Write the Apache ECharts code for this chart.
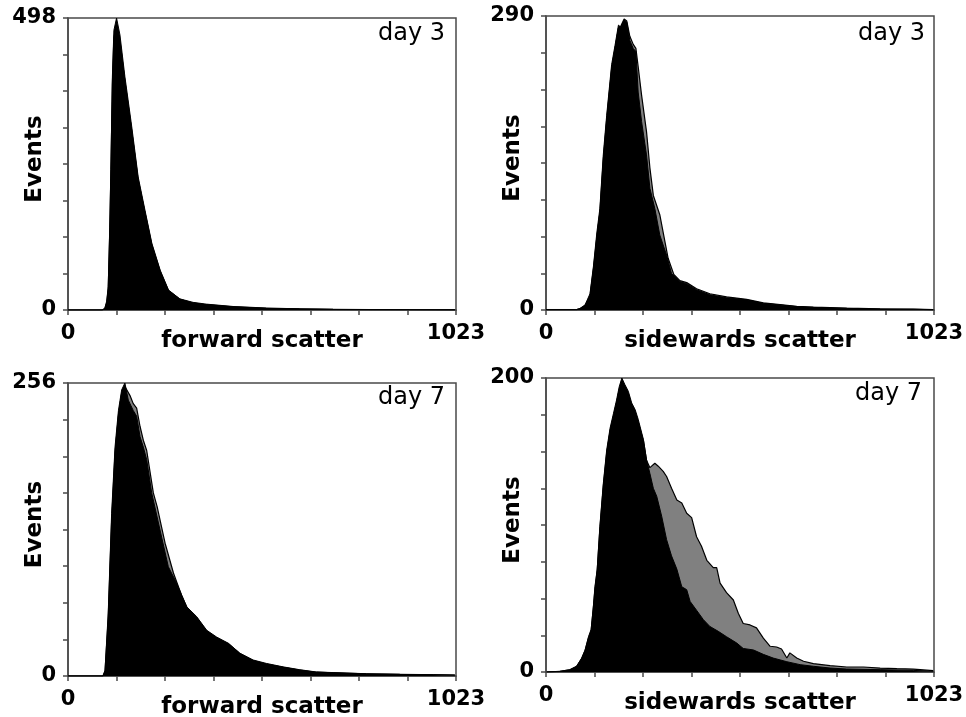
<!DOCTYPE html>
<html>
<head>
<meta charset="utf-8">
<script src="https://cdn.jsdelivr.net/npm/echarts@6/dist/echarts.min.js"></script>
<style>
html,body{margin:0;padding:0;background:#fff;}
#chart{width:966px;height:717px;}
</style>
</head>
<body>
<div id="chart"></div>
<script>
// ---------- data (channel, events) ----------
const xMax = 1023;
const xTickLabels = ['0', '1023'];
const yMaxes = [498, 290, 256, 200];
const panelTitles = ['day 3', 'day 3', 'day 7', 'day 7'];
const axisNames = ['forward scatter', 'sidewards scatter', 'forward scatter', 'sidewards scatter'];
const yAxisName = 'Events';

// forward scatter, day 3
const fsc3BlackX = [0, 90, 97, 102, 106, 110, 113, 117, 121, 128, 137, 150, 168, 185, 203, 221, 243, 265, 295, 330, 365, 435, 523, 611, 699, 800, 900, 1020];
const fsc3Black  = [0, 0, 3, 15, 40, 140, 240, 398, 477, 498, 469, 398, 313, 227, 170, 114, 68, 34, 19, 13, 10, 6, 3.4, 2, 1.2, 0.8, 0.5, 0.3];
const fsc3GrayX  = [0, 90, 97, 102, 106, 110, 113, 117, 121, 128, 137, 150, 168, 185, 203, 221, 243, 265, 295, 330, 365, 435, 523, 611, 699, 800, 900, 1020];
const fsc3Gray   = [0, 0, 2, 12, 35, 130, 230, 385, 465, 485, 458, 390, 305, 222, 166, 111, 66, 33, 18, 12, 9, 5.5, 3, 1.8, 1, 0.7, 0.4, 0.2];

// sidewards scatter, day 3
const ssc3BlackX = [0, 81, 90, 103, 116, 125, 134, 142, 151, 160, 173, 182, 191, 197, 206, 213, 221, 230, 237, 243, 252, 265, 274, 287, 300, 318, 331, 353, 371, 397, 432, 476, 529, 573, 617, 661, 705, 793, 881, 969, 1021];
const ssc3Black  = [0.5, 0.5, 1.6, 5, 16, 43, 76, 100, 153, 192, 242, 261, 281, 279, 286, 284, 266, 258, 255, 215, 186, 153, 120, 100, 74, 54, 36, 28, 26, 20, 15, 12, 10, 6.6, 5, 3.3, 2.6, 1.6, 1, 0.7, 0.3];
const ssc3GrayX  = [0, 81, 90, 103, 116, 125, 134, 142, 151, 160, 173, 182, 191, 197, 206, 213, 221, 230, 237, 243, 252, 265, 274, 283, 300, 322, 337, 353, 371, 397, 432, 476, 529, 573, 617, 661, 705, 793, 881, 969, 1021];
const ssc3Gray   = [0.4, 0.4, 1.4, 4.5, 14, 40, 72, 96, 148, 188, 238, 258, 278, 280, 287, 285, 270, 262, 258, 240, 212, 176, 140, 113, 94, 51, 35, 29, 27, 21, 16, 13, 10.5, 7, 5.4, 3.6, 2.8, 1.8, 1.1, 0.8, 0.4];

// forward scatter, day 7
const fsc7BlackX = [0, 92, 97.6, 106, 115, 124, 133, 141.5, 150, 159, 172, 181, 190, 198.6, 207.5, 220.7, 242.6, 264.5, 286.6, 313, 339, 365.7, 392, 423, 453, 488, 523, 567, 611, 655, 699, 787, 875, 963, 1020];
const fsc7Black  = [0, 0, 5, 55, 142, 200, 232, 250, 256, 241, 232, 227, 209, 200, 189, 160, 127.6, 95.5, 81, 60.5, 52, 40, 34, 28.6, 20, 14, 11, 8, 5.5, 3.5, 3, 2, 1.5, 1.2, 0.9];
const fsc7GrayX  = [0, 92, 97.6, 106, 115, 124, 133, 141.5, 150, 163.5, 172, 181, 190, 198.6, 207.5, 225, 235, 256, 278, 300, 316, 339, 365.7, 392, 423, 453, 488, 523, 567, 611, 655, 699, 787, 875, 963, 1020];
const fsc7Gray   = [0, 0, 4, 50, 135, 195, 228, 247, 253, 245, 238, 234, 218, 206, 197, 160, 148, 116, 90, 70, 58, 51, 39, 33, 28, 19.5, 13.5, 10.5, 7.5, 5.2, 3.3, 2.8, 1.9, 1.4, 1.1, 0.8];

// sidewards scatter, day 7
const ssc7BlackX = [2, 37, 63, 81, 94, 103, 112, 119, 125, 129, 135, 142, 151, 160, 169, 178, 186, 193, 200, 208, 217, 226, 235, 243, 257, 265, 274, 283, 292, 305, 318, 331, 345, 358, 371, 380, 397, 415, 432, 454, 476, 503, 520, 547, 573, 599, 635, 670, 705, 749, 793, 881, 969, 1021];
const ssc7Black  = [0, 0.5, 1.6, 4, 9.5, 15, 24, 29, 45, 58, 70, 99, 128, 151, 166, 176, 185, 194, 200, 195.5, 191, 183, 178.5, 172, 158, 144.5, 135, 125, 119.5, 106, 90, 79, 70, 58, 56, 48, 42, 35.6, 31, 27.7, 24, 19.7, 16, 15, 12, 9.5, 7, 5, 3.9, 2.7, 2, 1.6, 1.1, 0.5];
const ssc7GrayX  = [2, 37, 63, 81, 94, 103, 112, 119, 125, 129, 135, 142, 151, 160, 169, 178, 186, 193, 200, 208, 217, 226, 235, 243, 257, 265, 274, 287, 296, 309, 318, 331, 345, 358, 371, 384, 397, 410, 424, 441, 450, 459, 476, 494, 507, 520, 538, 555, 573, 591, 608, 621, 635, 643, 661, 679, 705, 749, 793, 837, 881, 925, 969, 1021];
const ssc7Gray   = [0, 0.4, 1.5, 3.8, 9, 14.5, 23, 28, 44, 56, 69, 97, 126, 149, 164, 174, 183, 192, 198, 194, 189, 181, 177, 170, 157, 144, 139, 142, 140, 136.5, 133, 125, 117, 115, 108, 105, 92, 85.5, 76, 71, 71, 60.5, 54, 49, 40, 33, 32, 30, 23, 17.5, 17, 15.6, 9.5, 13, 9.5, 7.3, 5.7, 4.3, 3.4, 3.4, 2.7, 2.3, 2, 0.9];

const panels = [
  { blackX: fsc3BlackX, black: fsc3Black, grayX: fsc3GrayX, gray: fsc3Gray },
  { blackX: ssc3BlackX, black: ssc3Black, grayX: ssc3GrayX, gray: ssc3Gray },
  { blackX: fsc7BlackX, black: fsc7Black, grayX: fsc7GrayX, gray: fsc7Gray },
  { blackX: ssc7BlackX, black: ssc7Black, grayX: ssc7GrayX, gray: ssc7Gray }
];

// ---------- layout ----------
const grids = [
  { left: 68, top: 18, width: 388, height: 292 },
  { left: 546, top: 16, width: 388, height: 294 },
  { left: 68, top: 383, width: 388, height: 293 },
  { left: 546, top: 378, width: 388, height: 294 }
];
const titlePos = [
  { x: 445, y: 22 },
  { x: 925, y: 22 },
  { x: 445, y: 386 },
  { x: 922, y: 382 }
];

const FONT = '"DejaVu Sans", "Liberation Sans", Arial, sans-serif';
const axisColor = '#4a4a4a';

const zip = (xs, ys) => xs.map((x, i) => [x, ys[i]]);

const option = {
  animation: false,
  backgroundColor: '#fff',
  grid: grids.map(g => Object.assign({ show: true, borderColor: axisColor, borderWidth: 1.5, backgroundColor: 'transparent', containLabel: false, outerBoundsMode: 'none' }, g)),
  xAxis: grids.map((g, i) => ({
    type: 'value', gridIndex: i, min: 0, max: xMax, interval: xMax / 8,
    name: axisNames[i], nameLocation: 'middle', nameGap: 20, nameMoveOverlap: false,
    nameTextStyle: { fontFamily: FONT, fontWeight: 'bold', fontSize: 23, color: '#000' },
    axisLine: { show: true, onZero: false, lineStyle: { color: axisColor, width: 1.5 } },
    axisTick: { show: true, inside: false, interval: 0, length: 5, lineStyle: { color: axisColor, width: 1.5 } },
    splitLine: { show: false },
    axisLabel: {
      show: true, interval: 0, margin: 13, fontFamily: FONT, fontWeight: 'bold', fontSize: 21, color: '#000',
      showMinLabel: true, showMaxLabel: true, hideOverlap: false,
      formatter: v => (v === 0 ? xTickLabels[0] : (Math.abs(v - xMax) < 1e-6 ? xTickLabels[1] : ''))
    }
  })),
  yAxis: grids.map((g, i) => ({
    type: 'value', gridIndex: i, min: 0, max: yMaxes[i], interval: yMaxes[i] / 8,
    name: yAxisName, nameLocation: 'middle', nameGap: 21, nameMoveOverlap: false,
    nameTextStyle: { fontFamily: FONT, fontWeight: 'bold', fontSize: 23, color: '#000', padding: [0, 0, 0, 10] },
    axisLine: { show: true, onZero: false, lineStyle: { color: axisColor, width: 1.5 } },
    axisTick: { show: true, inside: false, interval: 0, length: 5, lineStyle: { color: axisColor, width: 1.5 } },
    splitLine: { show: false },
    axisLabel: {
      show: true, interval: 0, margin: 12, fontFamily: FONT, fontWeight: 'bold', fontSize: 21, color: '#000',
      padding: [6, 0, 0, 0],
      showMinLabel: true, showMaxLabel: true, hideOverlap: false,
      formatter: v => (v === 0 ? '0' : (Math.abs(v - yMaxes[i]) < 1e-6 ? String(yMaxes[i]) : ''))
    }
  })),
  series: [],
  graphic: panelTitles.map((t, i) => ({
    type: 'text', x: titlePos[i].x, y: titlePos[i].y, z: 100,
    style: { text: t, font: '24px "DejaVu Sans", sans-serif', fill: '#000', align: 'right', verticalAlign: 'top' }
  }))
};

panels.forEach((p, i) => {
  option.series.push({
    type: 'line', xAxisIndex: i, yAxisIndex: i, data: zip(p.grayX, p.gray),
    showSymbol: false, symbol: 'none', smooth: false, z: 2,
    lineStyle: { color: '#000', width: 1.2 },
    areaStyle: { color: '#808080', opacity: 1 }
  });
  option.series.push({
    type: 'line', xAxisIndex: i, yAxisIndex: i, data: zip(p.blackX, p.black),
    showSymbol: false, symbol: 'none', smooth: false, z: 3,
    lineStyle: { color: '#000', width: 1 },
    areaStyle: { color: '#000', opacity: 1 }
  });
});

const chart = echarts.init(document.getElementById('chart'), null, { renderer: 'canvas' });
chart.setOption(option);
</script>
</body>
</html>
